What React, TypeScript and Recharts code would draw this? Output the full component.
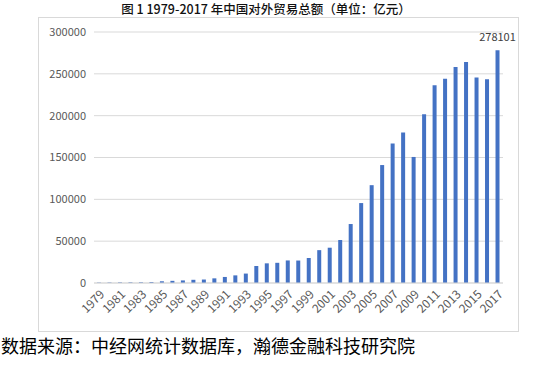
import React from "react";
import { BarChart, Bar, XAxis, YAxis, CartesianGrid, LabelList } from "recharts";

const years = [
  1979, 1980, 1981, 1982, 1983, 1984, 1985, 1986, 1987, 1988, 1989, 1990, 1991,
  1992, 1993, 1994, 1995, 1996, 1997, 1998, 1999, 2000, 2001, 2002, 2003, 2004,
  2005, 2006, 2007, 2008, 2009, 2010, 2011, 2012, 2013, 2014, 2015, 2016, 2017,
];

const totals = [
  455, 570, 735, 771, 860, 1201, 2067, 2580, 3084, 3822, 4156, 5560, 7226,
  9120, 11271, 20382, 23500, 24134, 26967, 26850, 29896, 39273, 42184, 51378,
  70484, 95539, 116922, 140974, 166864, 179922, 150648, 201722, 236402, 244160,
  258169, 264242, 245503, 243386, 278101,
];

const yTicks = [0, 50000, 100000, 150000, 200000, 250000, 300000];

const title = "图 1 1979-2017 年中国对外贸易总额（单位：亿元）";
const source = "数据来源：中经网统计数据库，瀚德金融科技研究院";

const FONT = '"Noto Sans CJK SC", "Noto Sans", sans-serif';

const data = years.map((y, i) => ({
  year: String(y),
  total: totals[i],
  label: i === years.length - 1 ? totals[i] : null,
}));

export default function App() {
  return (
    <div
      style={{
        position: "absolute",
        left: 0,
        top: 0,
        width: 550,
        height: 371,
        background: "#fff",
        fontFamily: FONT,
      }}
    >
      <div
        style={{
          position: "absolute",
          left: 0,
          width: 532,
          top: 2,
          lineHeight: "14px",
          textAlign: "center",
          fontSize: 12.5,
          fontWeight: 500,
          color: "#111",
          whiteSpace: "nowrap",
        }}
      >
        {title}
      </div>
      <div
        style={{
          position: "absolute",
          left: 38,
          top: 17,
          width: 479,
          height: 313,
          border: "1px solid #d9d9d9",
        }}
      />
      <div style={{ position: "absolute", left: 0, top: 0 }}>
        <BarChart
          width={550}
          height={371}
          data={data}
          margin={{ top: 32, right: 47, left: 0, bottom: 48 }}
          barSize={4}
        >
          <CartesianGrid vertical={false} stroke="#d9d9d9" />
          <XAxis
            dataKey="year"
            height={40}
            interval={1}
            tickLine={false}
            axisLine={{ stroke: "#d9d9d9" }}
            tickSize={0}
            tickMargin={6}
            angle={-45}
            textAnchor="end"
            tick={{ fill: "#595959", fontSize: 12, fontFamily: FONT }}
          />
          <YAxis
            width={94}
            domain={[0, 300000]}
            ticks={yTicks}
            axisLine={false}
            tickLine={false}
            tickSize={0}
            tickMargin={8}
            tick={{ fill: "#595959", fontSize: 11, fontFamily: FONT }}
          />
          <Bar dataKey="total" fill="#4472c4" isAnimationActive={false}>
            <LabelList
              dataKey="label"
              position="top"
              offset={9}
              fill="#404040"
              fontSize={11}
              fontFamily={FONT}
            />
          </Bar>
        </BarChart>
      </div>
      <div
        style={{
          position: "absolute",
          left: 1,
          top: 332,
          fontSize: 18,
          color: "#000",
          whiteSpace: "nowrap",
        }}
      >
        {source}
      </div>
    </div>
  );
}
